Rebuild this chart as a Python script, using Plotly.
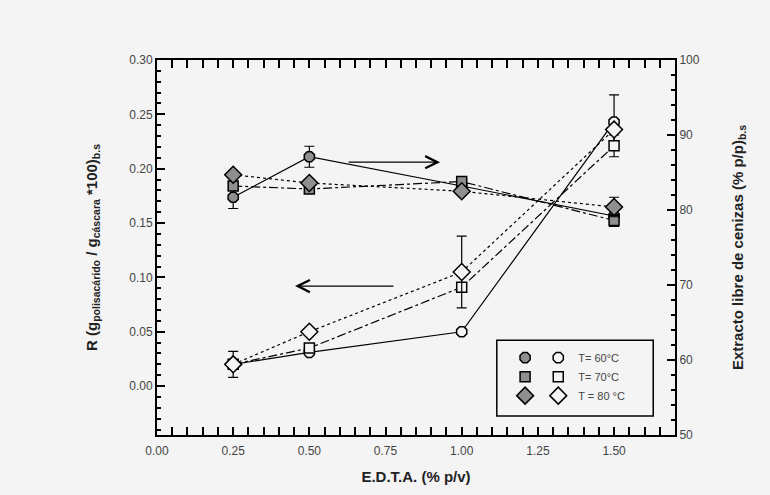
import plotly.graph_objects as go

edta = [0.25, 0.50, 1.00, 1.50]

# R (left axis) - open markers
r_60 = [0.020, 0.031, 0.050, 0.243]
r_70 = [0.020, 0.035, 0.091, 0.221]
r_80 = [0.020, 0.050, 0.105, 0.236]
r_60_err = [0.012, 0.0, 0.0, 0.025]
r_70_err = [0.0, 0.0, 0.0, 0.010]
r_80_err = [0.0, 0.0, 0.033, 0.0]

# Extracto libre de cenizas (right axis) - filled markers
e_60 = [81.7, 87.1, 83.2, 79.2]
e_70 = [83.2, 82.8, 83.8, 78.6]
e_80 = [84.7, 83.6, 82.5, 80.4]
e_60_err = [1.5, 1.4, 0.0, 0.0]
e_70_err = [0.0, 0.0, 0.0, 0.8]
e_80_err = [0.0, 0.0, 0.0, 1.3]

labels = ["T= 60°C", "T= 70°C", "T = 80 °C"]
symbols = ["octagon", "square", "diamond"]
dashes = ["solid", "dashdot", "dot"]

BG = "#f4f4f4"
FILL = "#8f8f8f"
FONT = "Liberation Sans, Arial, sans-serif"

fig = go.Figure()

r_sets = [(r_60, r_60_err), (r_70, r_70_err), (r_80, r_80_err)]
e_sets = [(e_60, e_60_err), (e_70, e_70_err), (e_80, e_80_err)]
sizes = [11, 10, 13]

for i in range(3):
    ev, ee = e_sets[i]
    fig.add_trace(go.Scatter(
        x=edta, y=ev, yaxis="y2", mode="lines+markers",
        line=dict(color="black", width=1.2, dash=dashes[i]),
        marker=dict(symbol=symbols[i], size=sizes[i], color=FILL,
                    line=dict(color="black", width=1.5)),
        error_y=dict(type="data", array=ee, visible=True, color="black",
                     thickness=1.2, width=5),
        showlegend=False))
    rv, re = r_sets[i]
    fig.add_trace(go.Scatter(
        x=edta, y=rv, yaxis="y", mode="lines+markers",
        line=dict(color="black", width=1.2, dash=dashes[i]),
        marker=dict(symbol=symbols[i], size=sizes[i], color=BG,
                    line=dict(color="black", width=1.5)),
        error_y=dict(type="data", array=re, visible=True, color="black",
                     thickness=1.2, width=5),
        showlegend=False))

# legend entries (markers only)
for i in range(3):
    fig.add_trace(go.Scatter(
        x=[None], y=[None], mode="markers", name=" ",
        marker=dict(symbol=symbols[i], size=sizes[i], color=FILL,
                    line=dict(color="black", width=1.5)),
        legend="legend", showlegend=True))
    fig.add_trace(go.Scatter(
        x=[None], y=[None], mode="markers", name=labels[i],
        marker=dict(symbol=symbols[i], size=sizes[i], color=BG,
                    line=dict(color="black", width=1.5)),
        legend="legend2", showlegend=True))

tickfont = dict(family=FONT, size=12, color="#444")
titlefont = dict(family=FONT, size=15, color="#222")

fig.update_layout(
    width=770, height=495,
    margin=dict(l=157, r=95, t=60, b=60),
    paper_bgcolor=BG, plot_bgcolor=BG,
    font=dict(family=FONT),
    xaxis=dict(
        range=[0, 1.70], tick0=0, dtick=0.25,
        tickformat=".2f", ticks="inside", ticklen=8, tickwidth=2,
        tickcolor="#000000", showline=True, linecolor="black", linewidth=2,
        mirror="allticks", showgrid=False, zeroline=False,
        minor=dict(dtick=0.05, tick0=0, ticks="inside", ticklen=4,
                   tickwidth=1.5, tickcolor="#000000"),
        tickfont=tickfont, ticklabelstandoff=4,
        title=dict(text="<b>E.D.T.A. (% p/v)</b>", font=titlefont, standoff=14)),
    yaxis=dict(
        range=[-0.045, 0.30], tick0=0, dtick=0.05,
        tickformat=".2f", ticks="inside", ticklen=8, tickwidth=2,
        tickcolor="#000000", showline=True, linecolor="black", linewidth=2,
        showgrid=False, zeroline=False,
        minor=dict(dtick=0.01, tick0=0, ticks="inside", ticklen=4,
                   tickwidth=1.5, tickcolor="#000000"),
        tickfont=tickfont,
        title=dict(text="<b>R (g<sub>polisacárido</sub> / g<sub>cáscara</sub> *100)<sub>b.s</sub></b>",
                   font=titlefont, standoff=28)),
    yaxis2=dict(
        range=[50, 100], overlaying="y", side="right",
        tick0=50, dtick=10,
        ticks="inside", ticklen=8, tickwidth=2,
        tickcolor="#000000", showline=True, linecolor="black", linewidth=2,
        showgrid=False, zeroline=False,
        minor=dict(dtick=2, tick0=50, ticks="inside", ticklen=4,
                   tickwidth=1.5, tickcolor="#000000"),
        tickfont=tickfont,
        title=dict(text="<b>Extracto libre de cenizas (% p/p)<sub>b.s</sub></b>",
                   font=titlefont, standoff=34)),
    legend=dict(x=0.672, y=0.245, xanchor="left", yanchor="top",
                bgcolor="rgba(0,0,0,0)", borderwidth=0,
                font=dict(family=FONT, size=11, color="#444"),
                itemsizing="trace", tracegroupgap=0),
    legend2=dict(x=0.736, y=0.245, xanchor="left", yanchor="top",
                 bgcolor="rgba(0,0,0,0)", borderwidth=0,
                 font=dict(family=FONT, size=11, color="#444"),
                 itemsizing="trace", tracegroupgap=0),
    shapes=[dict(type="rect", xref="paper", yref="paper",
                 x0=0.656, x1=0.958, y0=0.051, y1=0.253,
                 line=dict(color="black", width=1.5))],
    annotations=[
        dict(x=0.929, y=0.206, ax=0.624, ay=0.206, xref="x", yref="y",
             axref="x", ayref="y", text="", showarrow=True,
             arrowhead=5, arrowsize=2, arrowwidth=1.2, arrowcolor="black"),
        dict(x=0.453, y=0.092, ax=0.781, ay=0.092, xref="x", yref="y",
             axref="x", ayref="y", text="", showarrow=True,
             arrowhead=5, arrowsize=2, arrowwidth=1.2, arrowcolor="black"),
    ],
)

fig.write_html(
    "out.html",
    config={"displayModeBar": False},
    post_script="document.body.style.margin='0';"
                "document.body.style.background='" + BG + "';",
)
